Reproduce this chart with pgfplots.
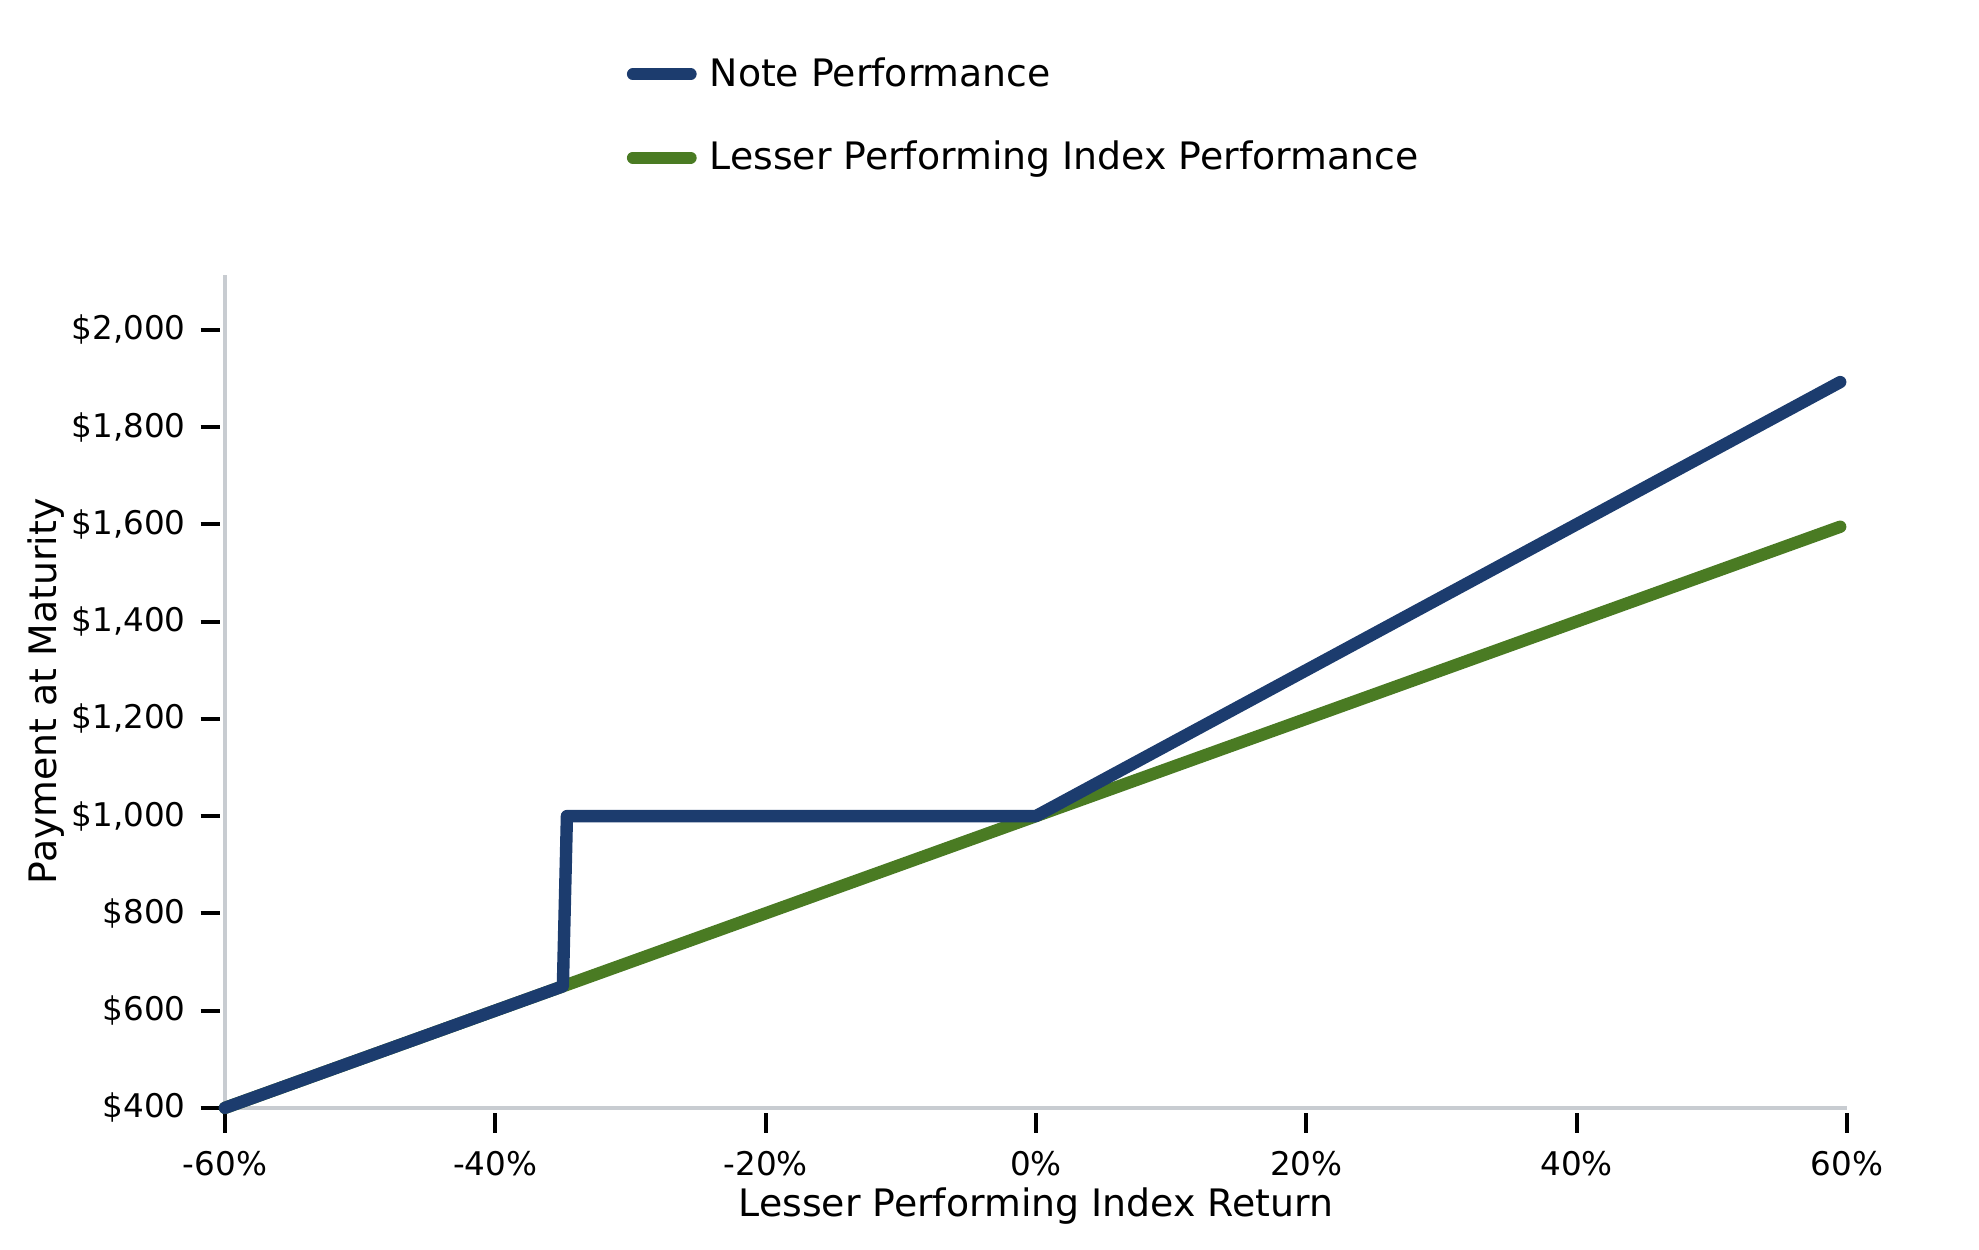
\documentclass[border=0pt]{standalone}
\usepackage{fontspec}
\setmainfont{DejaVu Sans}
\usepackage{pgfplots}
\pgfplotsset{compat=1.18}
\usetikzlibrary{calc}
\definecolor{noteblue}{HTML}{1C3C6E}
\definecolor{idxgreen}{HTML}{4A7B23}
\definecolor{spine}{HTML}{C8CCD1}
\newcommand{\bigf}{\fontsize{11.6}{14}\selectfont}
\newcommand{\tickf}{\fontsize{10}{12}\selectfont}
\begin{document}
\begin{tikzpicture}
\begin{axis}[
  name=ax,
  scale only axis,
  width=497.5pt, height=255.5pt,
  xmin=-60, xmax=60, ymin=400, ymax=2113,
  axis x line*=bottom, axis y line*=left,
  axis line style={draw=spine, line width=1.2pt, -},
  tick align=outside,
  major tick length=6pt,
  xtick={-60,-40,-20,0,20,40,60},
  ytick={400,600,800,1000,1200,1400,1600,1800,2000},
  xtick style={draw=black, line width=1.2pt, yshift=-1.7pt},
  ytick style={draw=black, line width=1.2pt, xshift=-1.5pt},
  minor tick num=0,
  tick label style={font=\tickf},
  /pgf/number format/assume math mode=true,
  /pgf/number format/1000 sep={,},
  xticklabel={\pgfmathprintnumber{\tick}\%},
  yticklabel={\$\pgfmathprintnumber{\tick}},
  xticklabel shift=3.8pt,
  yticklabel shift=2.5pt,
  xlabel={Lesser Performing Index Return},
  ylabel={Payment at Maturity},
  label style={font=\bigf},
  xlabel style={at={(axis description cs:0.5,-0.1175)}, anchor=center},
  ylabel style={at={(axis description cs:-0.1100,0.5)}, anchor=center, rotate=0},
  clip=false,
  reverse legend,
  legend cell align=left,
  legend style={draw=none, fill=none, inner sep=0pt, font=\bigf,
    at={(axis description cs:0.2474,1.1908)}, anchor=west,
    row sep=11.3pt,
    /tikz/every odd column/.append style={column sep=2pt}},
  legend image code/.code={\draw[#1, line width=3.6pt, line cap=round, mark=none] (0pt,0pt) -- (17.8pt,0pt);},
]
\addplot[idxgreen, line width=3.8pt, line join=round, line cap=round] coordinates {
(-60,400)(-59,410)(-58,420)(-57,430)(-56,440)(-55,450)(-54,460)(-53,470)(-52,480)(-51,490)
(-50,500)(-49,510)(-48,520)(-47,530)(-46,540)(-45,550)(-44,560)(-43,570)(-42,580)(-41,590)
(-40,600)(-39,610)(-38,620)(-37,630)(-36,640)(-35,650)(-34,660)(-33,670)(-32,680)(-31,690)
(-30,700)(-29,710)(-28,720)(-27,730)(-26,740)(-25,750)(-24,760)(-23,770)(-22,780)(-21,790)
(-20,800)(-19,810)(-18,820)(-17,830)(-16,840)(-15,850)(-14,860)(-13,870)(-12,880)(-11,890)
(-10,900)(-9,910)(-8,920)(-7,930)(-6,940)(-5,950)(-4,960)(-3,970)(-2,980)(-1,990)
(0,1000)(1,1010)(2,1020)(3,1030)(4,1040)(5,1050)(6,1060)(7,1070)(8,1080)(9,1090)
(10,1100)(11,1110)(12,1120)(13,1130)(14,1140)(15,1150)(16,1160)(17,1170)(18,1180)(19,1190)
(20,1200)(21,1210)(22,1220)(23,1230)(24,1240)(25,1250)(26,1260)(27,1270)(28,1280)(29,1290)
(30,1300)(31,1310)(32,1320)(33,1330)(34,1340)(35,1350)(36,1360)(37,1370)(38,1380)(39,1390)
(40,1400)(41,1410)(42,1420)(43,1430)(44,1440)(45,1450)(46,1460)(47,1470)(48,1480)(49,1490)
(50,1500)(51,1510)(52,1520)(53,1530)(54,1540)(55,1550)(56,1560)(57,1570)(58,1580)(59,1590)
(59.5,1595)
};
\addlegendentry{Lesser Performing Index Performance}
\addplot[noteblue, line width=3.8pt, line join=round, line cap=round] coordinates {
(-60,400)(-59,410)(-58,420)(-57,430)(-56,440)(-55,450)(-54,460)(-53,470)(-52,480)(-51,490)
(-50,500)(-49,510)(-48,520)(-47,530)(-46,540)(-45,550)(-44,560)(-43,570)(-42,580)(-41,590)
(-40,600)(-39,610)(-38,620)(-37,630)(-36,640)(-35,650)
(-34.7,1000)
(0,1000)(1,1015)(2,1030)(3,1045)(4,1060)(5,1075)(6,1090)(7,1105)(8,1120)(9,1135)
(10,1150)(11,1165)(12,1180)(13,1195)(14,1210)(15,1225)(16,1240)(17,1255)(18,1270)(19,1285)
(20,1300)(21,1315)(22,1330)(23,1345)(24,1360)(25,1375)(26,1390)(27,1405)(28,1420)(29,1435)
(30,1450)(31,1465)(32,1480)(33,1495)(34,1510)(35,1525)(36,1540)(37,1555)(38,1570)(39,1585)
(40,1600)(41,1615)(42,1630)(43,1645)(44,1660)(45,1675)(46,1690)(47,1705)(48,1720)(49,1735)
(50,1750)(51,1765)(52,1780)(53,1795)(54,1810)(55,1825)(56,1840)(57,1855)(58,1870)(59,1885)
(59.5,1892.5)
};
\addlegendentry{Note Performance}
\coordinate (SW) at (rel axis cs:0,0);
\coordinate (NE) at (rel axis cs:1,1);
\end{axis}
\pgfresetboundingbox
\path ($(SW)+(-69pt,-43.55pt)$) rectangle ($(NE)+(40.5pt,84.3pt)$);
\end{tikzpicture}
\end{document}
